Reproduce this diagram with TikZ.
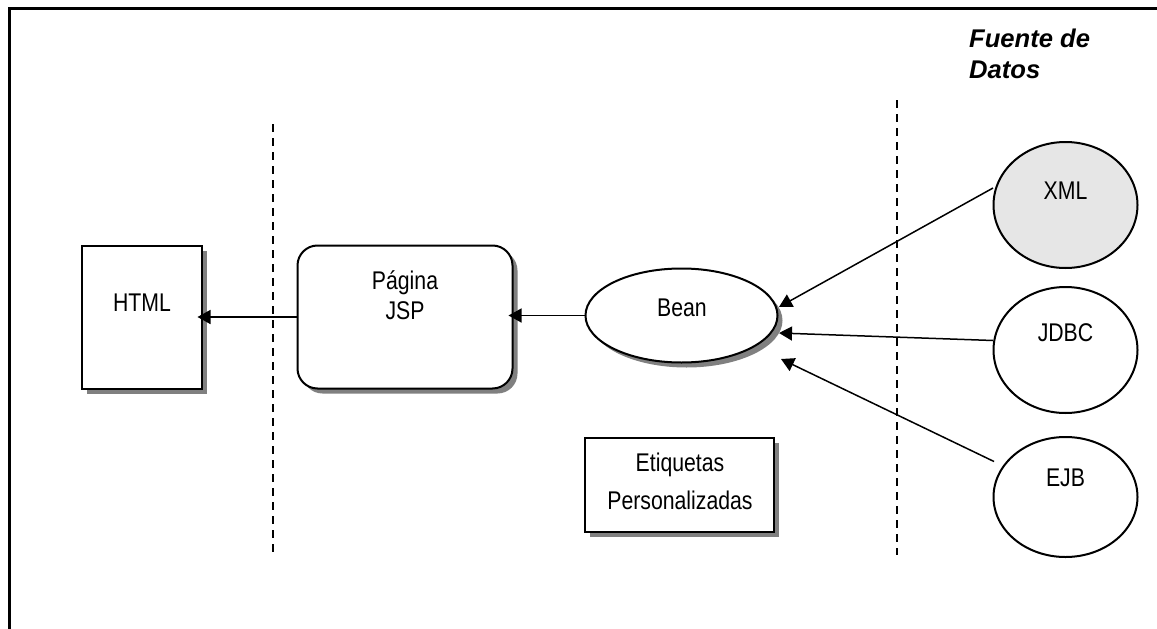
\documentclass[tikz,border=0pt]{standalone}
\usepackage{fontspec}
\setmainfont{Liberation Sans}[FakeStretch=0.83]
\newfontfamily\titlefont{Liberation Sans}
\usetikzlibrary{arrows.meta,shapes.geometric,shadows,calc}
\definecolor{shadowgray}{HTML}{808080}
\definecolor{xmlfill}{HTML}{E6E6E6}
\begin{document}
\begin{tikzpicture}[x=1pt,y=-1pt,
  lbl/.style={font=\fontsize{25.6}{30.7}\selectfont, inner sep=0pt, align=center},
  box/.style={draw, line width=2pt, fill=white, inner sep=0pt,
    general shadow={fill=shadowgray, shadow xshift=5pt, shadow yshift=-5pt}},
  src/.style={ellipse, draw, line width=2pt, inner sep=0pt, minimum width=144pt},
  arr/.style={line width=1.5pt, -{Triangle[length=13pt,width=14pt]}},
  sepline/.style={line width=2pt, dash pattern=on 8pt off 6pt},
]
\useasboundingbox (0,0) rectangle (1157,629);
% frame
\draw[line width=2.5pt] (9.3,629) -- (9.3,8.7) -- (1157,8.7);
% separators
\draw[sepline] (273,124) -- (273,552);
\draw[sepline] (897,100) -- (897,555);
% title
\node[anchor=north west, inner sep=0pt, align=left,
  font=\titlefont\bfseries\itshape\fontsize{25.6}{31}\selectfont] (title) at (969,28.5) {Fuente de\\Datos};
% shapes
\node[box, minimum width=120pt, minimum height=143pt] (html) at (141.5,317) {};
\node[box, rounded corners=20pt, minimum width=215pt, minimum height=143pt] (jsp) at (405,317) {};
\node[box, ellipse, minimum width=192pt, minimum height=94pt,
  general shadow={fill=shadowgray, shadow xshift=4pt, shadow yshift=-4pt}] (bean) at (681.5,315.5) {};
\node[box, minimum width=189pt, minimum height=94pt] (etiq) at (679.5,484.5) {};
\node[src, fill=xmlfill, minimum height=126pt] (xml) at (1065.5,205) {};
\node[src, fill=white, minimum height=126pt] (jdbc) at (1065.5,350) {};
\node[src, fill=white, minimum height=120pt] (ejb) at (1065.5,497) {};
% texts
\node[lbl] (htmlt) at (142,303) {HTML};
\node[lbl, anchor=north] (jspt) at (405,270) {Página\\JSP};
\node[lbl] (beant) at (682,308) {Bean};
\node[lbl, anchor=north, font=\fontsize{25.6}{37.7}\selectfont] (etiqt) at (680,453) {Etiquetas\\Personalizadas};
\node[lbl] (xmlt) at (1065.5,191) {XML};
\node[lbl] (jdbct) at (1065.5,333) {JDBC};
\node[lbl] (ejbt) at (1065.5,478) {EJB};
% connector end points
\coordinate (b1) at ($(bean.center)+(97.5,-8.5)$);
\coordinate (b2) at ($(bean.center)+(97.5,17.5)$);
\coordinate (b3) at ($(bean.center)+(99.5,43.5)$);
\coordinate (x1) at ($(xml.center)+(-72.5,-17)$);
\coordinate (j1) at ($(jdbc.center)+(-72.5,-9.5)$);
\coordinate (e1) at ($(ejb.center)+(-71.5,-35.5)$);
% connectors
\draw[arr, shorten >=-5pt] (jsp.west) -- (html.east);
\draw[arr, shorten >=-5pt] (bean.west) -- (bean.west -| jsp.east);
\draw[arr] (x1) -- (b1);
\draw[arr] (j1) -- (b2);
\draw[arr] (e1) -- (b3);
\end{tikzpicture}
\end{document}
